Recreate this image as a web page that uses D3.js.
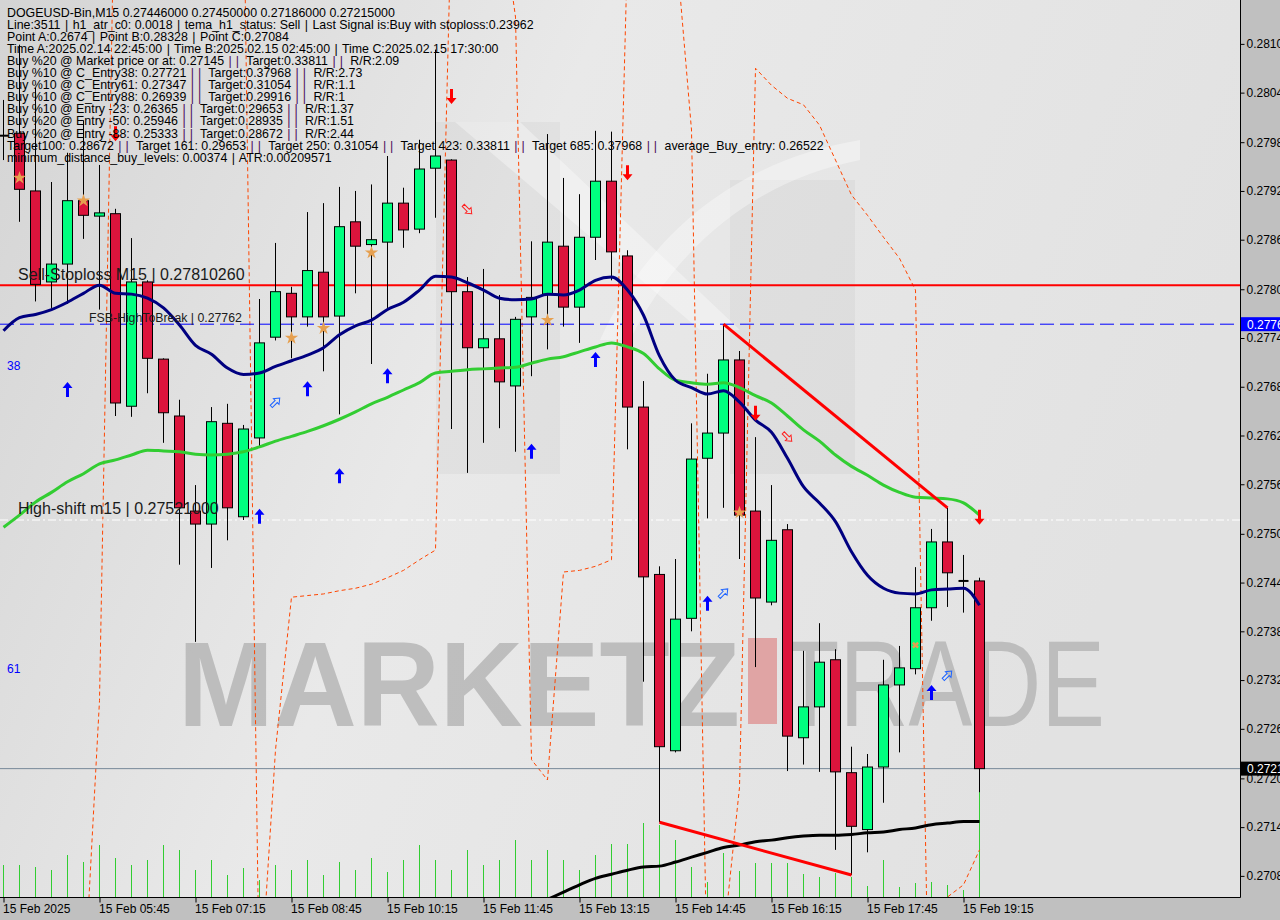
<!DOCTYPE html>
<html><head><meta charset="utf-8">
<script src="https://cdn.jsdelivr.net/npm/d3@7"></script>
<style>body{margin:0;background:#c0c0c0;}svg{display:block;font-family:"Liberation Sans",Arial,sans-serif;}</style>
</head><body><svg id="c" width="1280" height="920"></svg>
<script>
// ---------- DATA ----------
const opens  = [0.27994,0.27997,0.27926,0.27814,0.27836,0.27914,0.27895,0.27898,0.27661,0.27814,0.27719,0.27649,0.27532,0.27516,0.27640,0.27525,0.27622,0.27746,0.27800,0.27771,0.27826,0.27772,0.27888,0.27860,0.27863,0.27911,0.27879,0.27954,0.27964,0.27802,0.27733,0.27744,0.27686,0.27771,0.27799,0.27858,0.27783,0.27869,0.27938,0.27846,0.27660,0.27454,0.27237,0.27400,0.27597,0.27628,0.27718,0.27532,0.27420,0.27509,0.27253,0.27291,0.27349,0.27210,0.27140,0.27217,0.27318,0.27338,0.27413,0.27494,0.27446,0.27446];
const highs  = [0.28038,0.28106,0.28053,0.27937,0.27973,0.28013,0.27958,0.27904,0.27868,0.27816,0.27720,0.27669,0.27564,0.27660,0.27664,0.27638,0.27793,0.27862,0.27808,0.27900,0.27911,0.27931,0.27926,0.27934,0.27969,0.27930,0.27989,0.28100,0.27965,0.27820,0.27830,0.27798,0.27771,0.27864,0.27996,0.27942,0.27922,0.28000,0.27999,0.27853,0.27692,0.27464,0.27473,0.27640,0.27701,0.27762,0.27729,0.27623,0.27564,0.27516,0.27360,0.27394,0.27362,0.27242,0.27233,0.27349,0.27366,0.27463,0.27510,0.27536,0.27478,0.27450];
const lows   = [0.27964,0.27888,0.27790,0.27782,0.27787,0.27867,0.27780,0.27649,0.27648,0.27677,0.27616,0.27466,0.27371,0.27462,0.27496,0.27521,0.27610,0.27742,0.27720,0.27759,0.27704,0.27651,0.27800,0.27713,0.27782,0.27856,0.27874,0.27893,0.27633,0.27579,0.27616,0.27634,0.27605,0.27698,0.27731,0.27759,0.27739,0.27841,0.27816,0.27608,0.27322,0.27149,0.27235,0.27384,0.27523,0.27536,0.27473,0.27340,0.27416,0.27212,0.27220,0.27211,0.27115,0.27084,0.27112,0.27173,0.27235,0.27331,0.27397,0.27414,0.27407,0.27186];
const closes = [0.27994,0.27928,0.27811,0.27836,0.27914,0.27896,0.27899,0.27665,0.27814,0.27720,0.27653,0.27536,0.27516,0.27642,0.27536,0.27633,0.27739,0.27802,0.27771,0.27828,0.27771,0.27882,0.27858,0.27866,0.27911,0.27878,0.27953,0.27969,0.27802,0.27733,0.27744,0.27691,0.27768,0.27795,0.27863,0.27783,0.27869,0.27938,0.27851,0.27660,0.27451,0.27242,0.27399,0.27596,0.27628,0.27718,0.27527,0.27425,0.27496,0.27255,0.27291,0.27346,0.27211,0.27144,0.27217,0.27318,0.27339,0.27413,0.27494,0.27456,0.27446,0.27215];
const volumes = [320,320,300,270,420,350,520,390,320,370,520,470,270,370,220,290,170,320,270,370,220,350,270,390,250,370,520,370,270,470,320,370,570,370,470,370,270,420,530,530,740,720,570,300,150,440,260,340,340,340,230,200,240,200,110,370,100,140,150,120,70,1120];
const maNavy = [0.27754,0.27770,0.27774,0.27780,0.27789,0.27800,0.27810,0.27800,0.27799,0.27794,0.27782,0.27761,0.27736,0.27725,0.27708,0.27700,0.27702,0.27710,0.27717,0.27724,0.27733,0.27749,0.27760,0.27767,0.27780,0.27789,0.27804,0.27821,0.27820,0.27813,0.27804,0.27794,0.27792,0.27793,0.27799,0.27798,0.27804,0.27816,0.27820,0.27804,0.27773,0.27723,0.27693,0.27684,0.27676,0.27680,0.27666,0.27644,0.27629,0.27597,0.27562,0.27542,0.27519,0.27482,0.27453,0.27437,0.27431,0.27430,0.27435,0.27436,0.27437,0.27416];
const maGreen = [0.27512,0.27527,0.27543,0.27555,0.27568,0.27578,0.27590,0.27595,0.27601,0.27607,0.27606,0.27605,0.27602,0.27601,0.27602,0.27605,0.27611,0.27618,0.27624,0.27630,0.27637,0.27645,0.27654,0.27664,0.27672,0.27681,0.27690,0.27702,0.27704,0.27706,0.27707,0.27708,0.27709,0.27714,0.27719,0.27722,0.27728,0.27734,0.27739,0.27734,0.27726,0.27707,0.27693,0.27690,0.27688,0.27690,0.27684,0.27674,0.27665,0.27649,0.27632,0.27618,0.27601,0.27587,0.27576,0.27564,0.27555,0.27549,0.27548,0.27547,0.27542,0.27527];
const maBlack = [null,null,null,null,null,null,null,null,null,null,null,null,null,null,null,null,null,null,null,null,null,null,null,null,null,null,null,null,null,null,null,null,null,null,0.27054,0.27063,0.27072,0.27080,0.27085,0.27090,0.27094,0.27095,0.27100,0.27106,0.27112,0.27118,0.27121,0.27125,0.27127,0.27130,0.27132,0.27133,0.27133,0.27134,0.27136,0.27137,0.27140,0.27142,0.27146,0.27148,0.27150,0.27150];
const bandH1 = [0.26930,0.26930,0.26930,0.26930,0.26930,0.26930,0.27299,0.28365,0.28346,0.28346,0.28346,0.28346,0.28346,0.28346,0.28346,0.28315,0.26930,0.27238,0.27426,0.27428,0.27430,0.27434,0.27437,0.27442,0.27450,0.27459,0.27472,0.27484,0.28271,0.28284,0.28284,0.28284,0.28140,0.27226,0.27201,0.27457,0.27459,0.27464,0.27472,0.28224,0.28284,0.28284,0.28235,0.28001,0.26930,0.27004,0.27192,0.28077,0.28056,0.28040,0.28032,0.28007,0.27964,0.27921,0.27896,0.27869,0.27843,0.27804,0.26721,0.27057,0.27072,0.27115];
const timeLabels = ["15 Feb 2025","15 Feb 05:45","15 Feb 07:15","15 Feb 08:45","15 Feb 10:15","15 Feb 11:45","15 Feb 13:15","15 Feb 14:45","15 Feb 16:15","15 Feb 17:45","15 Feb 19:15"];
const timeLabelIdx = [0,6,12,18,24,30,36,42,48,54,60];
const priceTicks = [0.28107,0.28047,0.27986,0.27926,0.27866,0.27805,0.27745,0.27685,0.27625,0.27565,0.27504,0.27444,0.27384,0.27324,0.27264,0.27203,0.27143,0.27083];
const stopLoss = 0.27810, fsbHigh = 0.27762, highShift = 0.27521, lastPrice = 0.27215;
const fibLevels = [{p:0.27721,t:"38"},{p:0.27347,t:"61"}];
const trendLines = [[45,0.27762,59,0.27536],[41,0.27149,53,0.27084]];
const upArrows = [[4,0.27681],[16,0.27525],[19,0.27682],[21,0.27575],[24,0.27698],[33,0.27605],[37,0.27718],[44,0.27418],[58,0.27308]];
const downArrows = [[7,0.27997],[28,0.28043],[39,0.27949],[47,0.27653],[61,0.27525]];
const hollowUp = [[17,0.27666],[45,0.27431],[59,0.27330]];
const hollowDown = [[29,0.27903],[49,0.27623]];
const stars = [[1,0.27942],[5,0.27914],[18,0.27745],[20,0.27757],[23,0.27850],[34,0.27767],[46,0.27530]];
const crosses = [[57,0.27367]];
const infoLines = [
"DOGEUSD-Bin,M15  0.27446000 0.27450000 0.27186000 0.27215000",
"Line:3511 | h1_atr_c0: 0.0018 | tema_h1_status: Sell | Last Signal is:Buy with stoploss:0.23962",
"Point A:0.2674 | Point B:0.28328 | Point C:0.27084",
"Time A:2025.02.14 22:45:00 | Time B:2025.02.15 02:45:00 | Time C:2025.02.15 17:30:00",
"Buy %20 @ Market price or at: 0.27145 || Target:0.33811 || R/R:2.09",
"Buy %10 @ C_Entry38: 0.27721 || Target:0.37968 || R/R:2.73",
"Buy %10 @ C_Entry61: 0.27347 || Target:0.31054 || R/R:1.1",
"Buy %10 @ C_Entry88: 0.26939 || Target:0.29916 || R/R:1",
"Buy %10 @ Entry -23: 0.26365 || Target:0.29653 || R/R:1.37",
"Buy %20 @ Entry -50: 0.25946 || Target:0.28935 || R/R:1.51",
"Buy %20 @ Entry -88: 0.25333 || Target:0.28672 || R/R:2.44",
"Target100: 0.28672 || Target 161: 0.29653 || Target 250: 0.31054 || Target 423: 0.33811 || Target 685: 0.37968 || average_Buy_entry: 0.26522",
"minimum_distance_buy_levels: 0.00374 | ATR:0.00209571"];

// ---------- CHART ----------
const svg = d3.select("#c");
const PW = 1240, PH = 897;
const x = d3.scaleLinear().domain([0,61]).range([3.5,979.5]);
const y = d3.scaleLinear().domain([0.27057,0.28161]).range([PH,0]);
const vy = d3.scaleLinear().domain([0,1000]).range([PH,PH-100]);
const defs = svg.append("defs");
const g1 = defs.append("linearGradient").attr("id","bg").attr("x1","0").attr("x2","1").attr("y1","0").attr("y2","0.3");
g1.append("stop").attr("offset","0").attr("stop-color","#d4d4d4");
g1.append("stop").attr("offset","0.45").attr("stop-color","#e9e9e9");
g1.append("stop").attr("offset","1").attr("stop-color","#e2e2e2");
defs.append("clipPath").attr("id","clip").append("rect").attr("width",PW).attr("height",PH);

svg.append("rect").attr("width",1280).attr("height",920).attr("fill","#c0c0c0");
svg.append("rect").attr("width",PW).attr("height",PH).attr("fill","url(#bg)");
const plot = svg.append("g").attr("clip-path","url(#clip)");

// watermark logo
const wm = plot.append("g");
wm.append("polygon").attr("points","436,122 560,122 560,474 436,474").attr("fill","#bdbdbd").attr("opacity",0.18);
wm.append("polygon").attr("points","730,180 855,180 855,474 730,474").attr("fill","#bdbdbd").attr("opacity",0.18);
wm.append("polygon").attr("points","455,122 520,122 740,330 700,330").attr("fill","#ffffff").attr("opacity",0.35);
wm.append("path").attr("d","M600,340 C650,230 740,160 860,140 L860,160 C760,180 680,240 630,340 Z").attr("fill","#ffffff").attr("opacity",0.35);
wm.append("text").attr("x",178).attr("y",726).attr("font-size",120).attr("font-weight","bold").attr("fill","#b0b0b0").attr("opacity",0.75).attr("textLength",562).attr("lengthAdjust","spacingAndGlyphs").text("MARKETZ");
wm.append("rect").attr("x",748).attr("y",638).attr("width",29).attr("height",86).attr("fill","#e0a4a4");
wm.append("text").attr("x",781).attr("y",726).attr("font-size",122).attr("font-weight",400).attr("fill","#b4b4b4").attr("opacity",0.8).attr("textLength",324).attr("lengthAdjust","spacingAndGlyphs").text("TRADE");

// volumes
plot.append("g").selectAll("line").data(volumes).join("line")
  .attr("x1",(d,i)=>x(i)).attr("x2",(d,i)=>x(i)).attr("y1",PH).attr("y2",d=>vy(d))
  .attr("stroke","#32cd32").attr("stroke-width",1);

// H1 stepped band (dashed orange)
const lnStraight = d3.line().x((d,i)=>x(i)).y(d=>y(d));
plot.append("path").attr("d",lnStraight(bandH1)).attr("fill","none").attr("stroke","#ff4500").attr("stroke-width",1).attr("stroke-dasharray","4,3");

// horizontal lines
plot.append("line").attr("x1",0).attr("x2",PW).attr("y1",y(highShift)).attr("y2",y(highShift)).attr("stroke","#ffffff").attr("stroke-dasharray","8,3,2,3").attr("stroke-width",1);
plot.append("line").attr("x1",0).attr("x2",PW).attr("y1",y(lastPrice)).attr("y2",y(lastPrice)).attr("stroke","#778899").attr("stroke-width",1);
plot.append("line").attr("x1",0).attr("x2",PW).attr("y1",y(fsbHigh)).attr("y2",y(fsbHigh)).attr("stroke","#0000ff").attr("stroke-dasharray","14,6").attr("stroke-width",1);
plot.append("line").attr("x1",0).attr("x2",PW).attr("y1",y(stopLoss)).attr("y2",y(stopLoss)).attr("stroke","#ff0000").attr("stroke-width",2);

// candles
const cg = plot.append("g");
opens.forEach((o,i)=>{
  const c = closes[i], cx = x(i);
  cg.append("line").attr("x1",cx).attr("x2",cx).attr("y1",y(highs[i])).attr("y2",y(lows[i])).attr("stroke","#000").attr("stroke-width",1);
  if (Math.abs(o-c) < 0.000005) {
    cg.append("line").attr("x1",cx-5).attr("x2",cx+5).attr("y1",y(o)).attr("y2",y(o)).attr("stroke","#000").attr("stroke-width",2);
  } else {
    const top = y(Math.max(o,c)), bot = y(Math.min(o,c));
    cg.append("rect").attr("x",cx-5).attr("width",10).attr("y",top).attr("height",Math.max(1,bot-top))
      .attr("fill", c>o ? "#00ff7f" : "#dc143c").attr("stroke","#000").attr("stroke-width",1);
  }
});

// MA lines
const ln = d3.line().defined(d=>d[1]!=null).x(d=>x(d[0])).y(d=>y(d[1])).curve(d3.curveMonotoneX);
plot.append("path").attr("d",ln(maGreen.map((v,i)=>[i,v]))).attr("fill","none").attr("stroke","#32cd32").attr("stroke-width",3);
plot.append("path").attr("d",ln(maNavy.map((v,i)=>[i,v]))).attr("fill","none").attr("stroke","#000080").attr("stroke-width",3);
plot.append("path").attr("d",ln(maBlack.map((v,i)=>[i,v]))).attr("fill","none").attr("stroke","#000").attr("stroke-width",3);

// trend lines
trendLines.forEach(t=>{
  plot.append("line").attr("x1",x(t[0])).attr("y1",y(t[1])).attr("x2",x(t[2])).attr("y2",y(t[3])).attr("stroke","#ff0000").attr("stroke-width",3);
});

// markers
const upPath = "M0,-8 L5,-2 L1.5,-2 L1.5,7 L-1.5,7 L-1.5,-2 L-5,-2 Z";
upArrows.forEach(a=>plot.append("path").attr("d",upPath).attr("transform",`translate(${x(a[0])},${y(a[1])})`).attr("fill","#0000ff"));
downArrows.forEach(a=>plot.append("path").attr("d",upPath).attr("transform",`translate(${x(a[0])},${y(a[1])}) rotate(180)`).attr("fill","#ff0000"));
const hollowPath = "M0,-6 L4,-1 L1.5,-1 L1.5,6 L-1.5,6 L-1.5,-1 L-4,-1 Z";
hollowUp.forEach(a=>plot.append("path").attr("d",hollowPath).attr("transform",`translate(${x(a[0])},${y(a[1])}) rotate(45)`).attr("fill","none").attr("stroke","#1e64ff").attr("stroke-width",1));
hollowDown.forEach(a=>plot.append("path").attr("d",hollowPath).attr("transform",`translate(${x(a[0])},${y(a[1])}) rotate(135)`).attr("fill","none").attr("stroke","#ff2020").attr("stroke-width",1));
const star = d3.symbol().type(d3.symbolStar).size(55);
stars.forEach(a=>plot.append("path").attr("d",star()).attr("transform",`translate(${x(a[0])},${y(a[1])})`).attr("fill","#e6a050"));
crosses.forEach(a=>plot.append("path").attr("d",d3.symbol().type(d3.symbolCross).size(30)()).attr("transform",`translate(${x(a[0])},${y(a[1])}) rotate(45)`).attr("fill","#e6a050"));

// labels in plot
plot.append("text").attr("x",18).attr("y",y(stopLoss)-5).attr("font-size",16).attr("fill","#1a1a1a").text("Sell-Stoploss M15 | 0.27810260");
plot.append("text").attr("x",89).attr("y",y(fsbHigh)-2).attr("font-size",12.3).attr("fill","#1a1a1a").text("FSB-HighToBreak | 0.27762");
plot.append("text").attr("x",18).attr("y",y(highShift)-6).attr("font-size",16).attr("fill","#1a1a1a").text("High-shift m15 | 0.27521000");
fibLevels.forEach(f=>plot.append("text").attr("x",7).attr("y",y(f.p)+12).attr("font-size",12).attr("fill","#0000ff").text(f.t));

// info text
const info = svg.append("g").attr("font-size",12.4).attr("fill","#000");
infoLines.forEach((s,k)=>{
  const t = info.append("text").attr("x",7).attr("y",16.5+12.1*k);
  s.split(/(\|\||\|)/).forEach(part=>{
    if (part==="||") t.append("tspan").attr("fill","#4b0a5a").attr("letter-spacing",4).attr("dx",1).text("||");
    else if (part==="|") t.append("tspan").attr("letter-spacing",1).attr("dx",1).text("|");
    else if (part.length) t.append("tspan").text(part);
  });
});

// axes frame
svg.append("line").attr("x1",PW+0.5).attr("x2",PW+0.5).attr("y1",0).attr("y2",PH+0.5).attr("stroke","#000");
svg.append("line").attr("x1",0).attr("x2",PW+0.5).attr("y1",PH+0.5).attr("y2",PH+0.5).attr("stroke","#000");
const ra = svg.append("g").attr("transform",`translate(${PW+0.5},0)`)
  .call(d3.axisRight(y).tickValues(priceTicks).tickSize(4).tickFormat(d3.format(".5f")));
ra.select(".domain").remove();
ra.selectAll("text").attr("font-size",12).attr("font-family","Liberation Sans, Arial").attr("fill","#000").attr("x",6);
const ba = svg.append("g").attr("transform",`translate(0,${PH+0.5})`)
  .call(d3.axisBottom(x).tickValues(timeLabelIdx).tickSize(5).tickFormat((d,k)=>timeLabels[k]));
ba.select(".domain").remove();
ba.selectAll("text").attr("font-size",12).attr("font-family","Liberation Sans, Arial").attr("fill","#000").attr("text-anchor","start").attr("x",-1).attr("dy","0.6em");

// price tags
function tag(p,bg){
  const yy = y(p);
  svg.append("rect").attr("x",PW+1).attr("y",yy-7).attr("width",40).attr("height",14).attr("fill",bg);
  svg.append("text").attr("x",PW+7).attr("y",yy+4.5).attr("font-size",12).attr("fill","#fff").text(d3.format(".5f")(p));
}
tag(fsbHigh,"#0000ff");
tag(lastPrice,"#000000");
</script></body></html>
